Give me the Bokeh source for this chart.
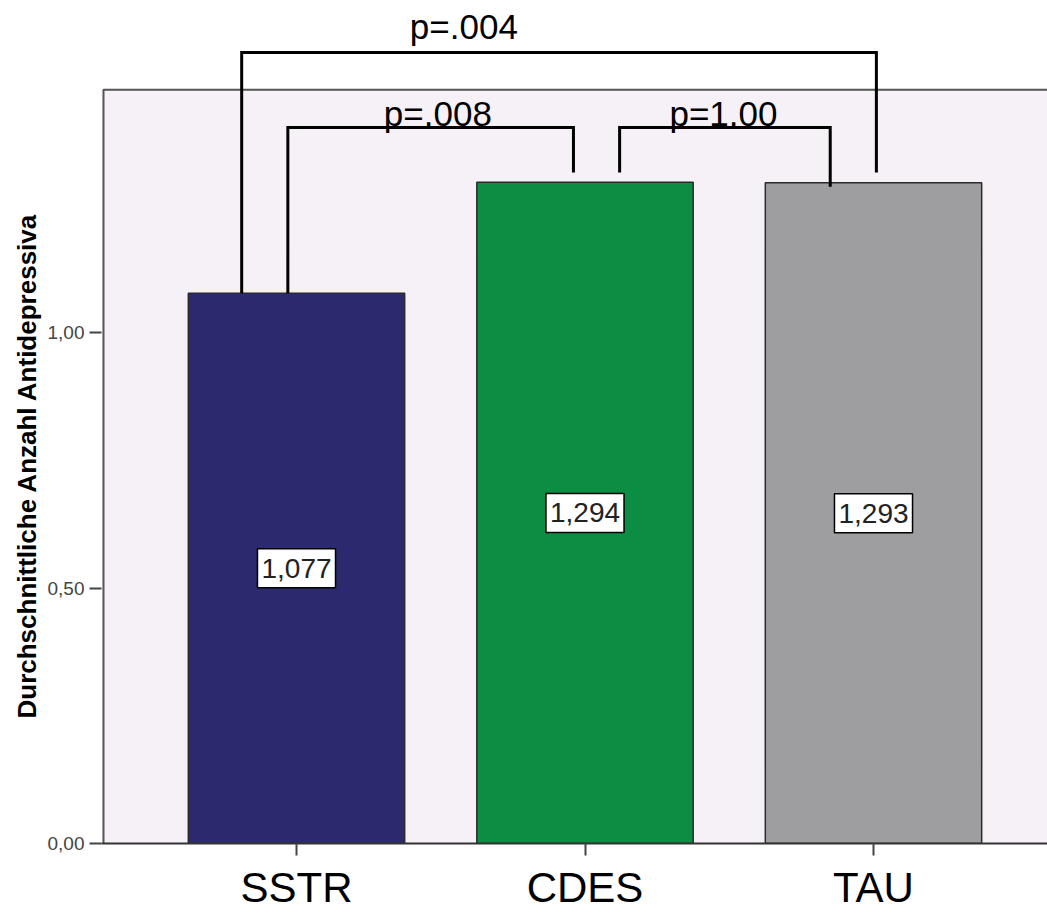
from bokeh.plotting import figure
from bokeh.models import (Range1d, FixedTicker, BoxAnnotation, ColumnDataSource,
                          CustomJSTickFormatter, Title)
from bokeh.embed import file_html
from bokeh.resources import INLINE
from bokeh.core.properties import value

# ---- data ----
categories = ["SSTR", "CDES", "TAU"]
means = [1.077, 1.294, 1.293]
bar_colors = ["#2B2A6E", "#0B8D43", "#9E9DA0"]
y_ticks = [0.0, 0.5, 1.0]
y_label = "Durchschnittliche Anzahl Antidepressiva"

# pairwise comparisons: (group a, group b, p-value text)
comparisons = [("SSTR", "TAU", "p=.004"), ("SSTR", "CDES", "p=.008"), ("CDES", "TAU", "p=1.00")]

# ---- bracket geometry (annotation layout, data units) ----
bracket_geom = {
    "p=.004": dict(xl=-0.19, xr=2.01, top=1.548, bl=1.077, br=1.313, tx=0.58, ty=1.598),
    "p=.008": dict(xl=-0.03, xr=0.96, top=1.401, bl=1.077, br=1.313, tx=0.49, ty=1.428),
    "p=1.00": dict(xl=1.12, xr=1.85, top=1.401, bl=1.313, br=1.285, tx=1.48, ty=1.428),
}

FONT = "Liberation Sans"
px_per_x = 288.5
left_px = 101
x_start = -(296 - left_px) / px_per_x
frame_w = 1047 - left_px
x_end = x_start + frame_w / px_per_x
frame_h = 843
y_end = frame_h / 511.0
bg_top = 1.475

p = figure(frame_width=frame_w, frame_height=frame_h,
           x_range=Range1d(x_start, x_end), y_range=Range1d(0, y_end),
           output_backend="svg", toolbar_location=None,
           min_border_left=left_px, min_border_right=0, min_border_top=0, min_border_bottom=78,
           background_fill_color="white", border_fill_color="white",
           outline_line_color=None)

p.add_layout(BoxAnnotation(bottom=0, top=bg_top, fill_color="#F6F1F6", fill_alpha=1.0,
                           line_color=None, level="underlay"))

xs = list(range(len(categories)))
src = ColumnDataSource(dict(
    x=xs, top=means, color=bar_colors,
    mid=[m / 2 for m in means],
    txt=[f"{m:.3f}".replace(".", ",") for m in means],
))
p.vbar(x="x", top="top", width=0.75, fill_color="color", line_color="#2a2a2a",
       line_width=1.5, source=src)

# frame border (left + top)
bx = x_start + 2 / px_per_x
p.line(x=[bx, bx, x_end + 1], y=[0, bg_top, bg_top], line_color="#555555", line_width=2)

# value labels
p.text(x="x", y="mid", text="txt", source=src, text_align="center",
       text_baseline="middle", text_font=value(FONT), text_font_size="28px",
       text_color="#222222", background_fill_color="white",
       border_line_color="black", border_line_width=1.5, padding=(4, 10))

# brackets
mx, my, tx, ty, tt = [], [], [], [], []
for a, b, lab in comparisons:
    g = bracket_geom[lab]
    mx.append([g["xl"], g["xl"], g["xr"], g["xr"]])
    my.append([g["bl"], g["top"], g["top"], g["br"]])
    tx.append(g["tx"]); ty.append(g["ty"]); tt.append(lab)
p.multi_line(xs=mx, ys=my, line_color="black", line_width=3, line_join="miter")
p.text(x=tx, y=ty, text=tt, text_align="center", text_baseline="alphabetic",
       text_font=value(FONT), text_font_size="35px", text_color="black")

# axes
p.xgrid.visible = False
p.ygrid.visible = False

xa = p.xaxis[0]
xa.ticker = FixedTicker(ticks=xs)
xa.formatter = CustomJSTickFormatter(args=dict(cats=categories),
                                     code="return cats[Math.round(tick)] || '';")
xa.axis_line_color = "#333333"
xa.axis_line_width = 2
xa.major_tick_in = 0
xa.major_tick_out = 12
xa.major_tick_line_color = "#444444"
xa.major_tick_line_width = 2
xa.minor_tick_line_color = None
xa.major_label_standoff = 8
xa.major_label_text_font = FONT
xa.major_label_text_font_size = "42px"
xa.major_label_text_color = "black"

ya = p.yaxis[0]
ya.ticker = FixedTicker(ticks=y_ticks)
ya.formatter = CustomJSTickFormatter(code="return tick.toFixed(2).replace('.', ',');")
ya.axis_line_color = None
ya.major_tick_in = 0
ya.major_tick_out = 12
ya.major_tick_line_color = "#444444"
ya.major_tick_line_width = 2
ya.minor_tick_line_color = None
ya.major_label_standoff = 5
ya.major_label_text_font = FONT
ya.major_label_text_font_size = "19px"
ya.major_label_text_color = "#444444"

# y-axis title, placed along the visible plot area
p.add_layout(Title(text=y_label, align="left", offset=125, text_font=FONT,
                   text_font_style="bold", text_font_size="26px", text_color="black",
                   standoff=6), "left")

open("out.html", "w").write(file_html(p, INLINE))
